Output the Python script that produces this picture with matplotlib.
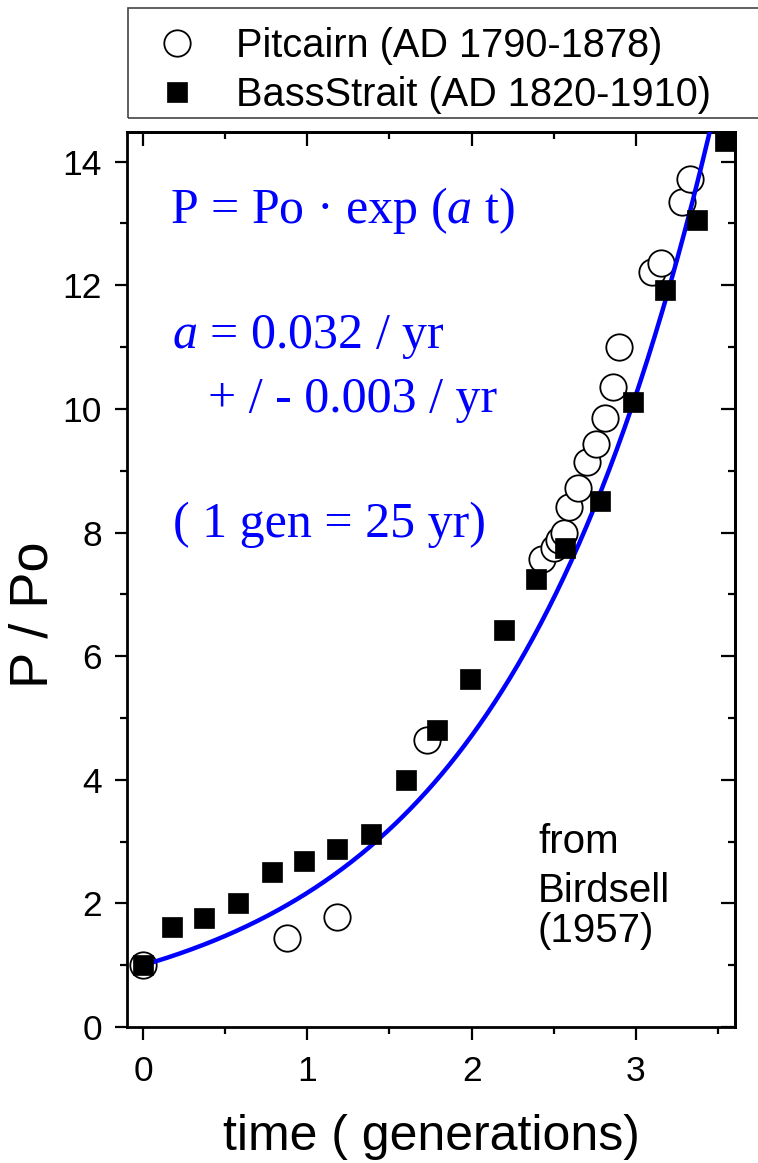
import numpy as np
import matplotlib
matplotlib.use("Agg")
import matplotlib.pyplot as plt
from matplotlib.patches import Rectangle
from matplotlib.ticker import MultipleLocator

plt.rcParams['mathtext.fontset'] = 'custom'
plt.rcParams['mathtext.rm'] = 'Liberation Serif'
plt.rcParams['mathtext.it'] = 'Liberation Serif:italic'

# Bass Strait (squares)
bass_t = [0.0, 0.177, 0.371, 0.578, 0.785, 0.98, 1.18, 1.39, 1.60, 1.79,
          1.99, 2.20, 2.39, 2.57, 2.78, 2.98, 3.18, 3.37, 3.54]
bass_p = [1.0, 1.62, 1.76, 2.0, 2.51, 2.69, 2.88, 3.12, 4.0, 4.81,
          5.63, 6.42, 7.25, 7.75, 8.51, 10.11, 11.93, 13.06, 14.34]

# Pitcairn (circles)
pit_t = [0.0, 0.876, 1.18, 1.73, 2.43, 2.50, 2.53, 2.56, 2.59, 2.65,
         2.70, 2.76, 2.81, 2.86, 2.90, 3.10, 3.15, 3.28, 3.33]
pit_p = [1.0, 1.44, 1.78, 4.64, 7.57, 7.75, 7.88, 8.0, 8.41, 8.72,
         9.14, 9.43, 9.86, 10.36, 11.0, 12.22, 12.36, 13.35, 13.72]

# fitted growth rate (per generation)
rate_per_gen = 0.775

W, H = 758, 1163
fig = plt.figure(figsize=(W / 100, H / 100), dpi=100)
ax = fig.add_axes([127 / W, (H - 1027) / H, (735 - 127) / W, (1027 - 132) / H])

ln_c, = ax.plot(pit_t, pit_p, linestyle='none', marker='o', markersize=19,
                markerfacecolor='white', markeredgecolor='black',
                markeredgewidth=1.3, zorder=3, clip_on=False)
tt = np.linspace(0, 3.7, 400)
ax.plot(tt, np.exp(rate_per_gen * tt), color='#0000FF', lw=3.2, zorder=4)
ln_s, = ax.plot(bass_t, bass_p, linestyle='none', marker='s', markersize=14,
                markerfacecolor='black', markeredgecolor='black',
                markeredgewidth=0.5, zorder=5)

ax.set_xlim(-0.097, 3.603)
ax.set_ylim(0, 14.48)

for s in ax.spines.values():
    s.set_linewidth(2.0)

ax.xaxis.set_major_locator(MultipleLocator(1))
ax.xaxis.set_minor_locator(MultipleLocator(0.5))
ax.yaxis.set_major_locator(MultipleLocator(2))
ax.yaxis.set_minor_locator(MultipleLocator(1))

ax.tick_params(which='both', direction='out', width=1.6)
ax.tick_params(which='major', length=9)
ax.tick_params(which='minor', length=5)
ax.tick_params(axis='x', which='major', labelsize=25.5, pad=11)
ax.tick_params(axis='y', which='major', labelsize=25.5, pad=9)
for lab in ax.get_xticklabels() + ax.get_yticklabels():
    lab.set_fontfamily('Liberation Sans')

# mirrored inward ticks on top/right
axt = ax.secondary_xaxis('top')
axt.xaxis.set_major_locator(MultipleLocator(1))
axt.xaxis.set_minor_locator(MultipleLocator(0.5))
axt.tick_params(which='both', direction='in', width=1.6, labeltop=False)
axt.tick_params(which='major', length=10)
axt.tick_params(which='minor', length=5)
axt.spines['top'].set_linewidth(2.0)
axr = ax.secondary_yaxis('right')
axr.yaxis.set_major_locator(MultipleLocator(2))
axr.yaxis.set_minor_locator(MultipleLocator(1))
axr.tick_params(which='both', direction='in', width=1.6, labelright=False)
axr.tick_params(which='major', length=10)
axr.tick_params(which='minor', length=5)
axr.spines['right'].set_linewidth(2.0)

ax.set_xlabel('time ( generations)', fontsize=36, family='Liberation Sans', labelpad=19)
ax.text(33 / 608 - 127 / 608, (1027 - 615) / 895, 'P / Po', transform=ax.transAxes,
        rotation=90, ha='center', va='center', fontsize=39, family='Liberation Sans')

blue = '#0000FF'
tfont = dict(color=blue, fontsize=36, family='Liberation Serif', va='baseline', ha='left')
ax.text(0.164, 13.01, 'P = Po · exp ($a$ t)', **tfont)
ax.text(0.177, 10.99, '$a$ = 0.032 / yr', **tfont)
ax.text(0.396, 9.95, '+ / - 0.003 / yr', **tfont)
ax.text(0.183, 7.93, '( 1 gen = 25 yr)', **tfont)

sfont = dict(color='black', fontsize=29, family='Liberation Sans', va='baseline', ha='left')
ax.text(2.404, 2.82, 'from', **sfont)
ax.text(2.404, 2.02, 'Birdsell', **sfont)
ax.text(2.404, 1.375, '(1957)', **sfont)

leg = fig.legend([ln_c, ln_s], ['Pitcairn (AD 1790-1878)', 'BassStrait (AD 1820-1910)'],
                 loc='upper left', bbox_to_anchor=(158 / W, 1 - 27 / H),
                 frameon=False, prop={'family': 'Liberation Sans', 'size': 28.6},
                 handlelength=0.97, handletextpad=1.0, labelspacing=0.27,
                 borderpad=0, borderaxespad=0, numpoints=1)
fig.patches.append(Rectangle((128 / W, 1 - 118 / H), 1.0, 110 / H,
                             transform=fig.transFigure, fill=False,
                             edgecolor='#444444', lw=1.2))

fig.savefig('out.png', dpi=100)
